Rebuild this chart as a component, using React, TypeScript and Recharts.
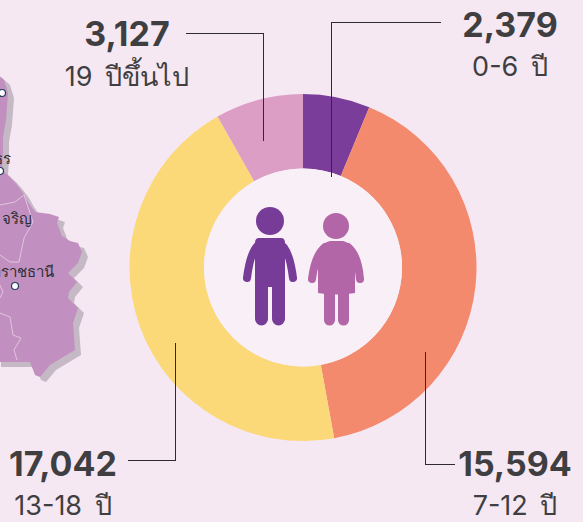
import React from 'react';
import { PieChart, Pie, Cell } from 'recharts';

const ageGroups = ['0-6 ปี', '7-12 ปี', '13-18 ปี', '19 ปีขึ้นไป'];
const counts = [2379, 15594, 17042, 3127];
const colors = ['#7a3e9a', '#f3896d', '#fbd878', '#dc9ec5'];
const chartData = ageGroups.map((name, i) => ({ name, value: counts[i] }));

const font = 'Inter, "Noto Sans", sans-serif';
const ink = '#3f3f41';

const labelLayout = [
  { cx: 510, big: 37, small: 76 },
  { cx: 515, big: 476, small: 515 },
  { cx: 63, big: 476, small: 515 },
  { cx: 127, big: 46, small: 86 },
];
const leaders = [
  '441,22 331,22 331,177',
  '455,464 425,464 425,352',
  '128,460 175,460 175,343',
  '186,33 263,33 263,141',
];

const mapOutline =
  'M-5,72 L4,80 L8,93 L6,120 L3,137 L3,153 L2,170 L10,177 L17,185 L23,193 L28,202 L35,212 L50,214 L59,217 L57,223 L62,236 L70,241 L78,243 L82,252 L78,263 L68,273 L77,282 L69,292 L68,298 L78,308 L73,323 L75,350 L50,365 L40,377 L35,375 L30,362 L0,362 L-5,362 Z';

export default function App() {
  return (
    <div style={{ position: 'absolute', left: 0, top: 0, width: 583, height: 522, background: '#f6e8f3', overflow: 'hidden', fontFamily: font }}>
      <svg width={583} height={522} style={{ position: 'absolute', left: 0, top: 0 }}>
        <path d={mapOutline} fill="#c5b9c5" transform="translate(6,5)" />
        <path d={mapOutline} fill="#c190c0" />
        <path d="M0,205 L15,202 L24,195 L33,222 L24,238 L19,262 L10,262 L0,255 M0,285 L3,292 L0,298 M0,313 L10,317 L13,335 L21,338 L14,350 L17,360" fill="none" stroke="#e2c4de" strokeWidth={1} />
        <g fontSize={15} fill="#2e2e30" fontFamily='"Noto Sans", sans-serif'>
          <text x={2} y={224}>จริญ</text>
          <text x={-8} y={277}>ลราชธานี</text>
          <text x={-6} y={164}>ธร</text>
        </g>
        {[[2, 93], [0, 171], [15, 286]].map(([x, y], i) => (
          <circle key={i} cx={x} cy={y} r={3.5} fill="#fff" stroke="#1f3b57" strokeWidth={1.2} />
        ))}
      </svg>
      <PieChart width={583} height={522} style={{ position: 'absolute', left: 0, top: 0 }} margin={{ top: 0, right: 0, bottom: 0, left: 0 }}>
        <Pie
          data={chartData}
          dataKey="value"
          nameKey="name"
          cx={303}
          cy={267.5}
          outerRadius={173.5}
          innerRadius={99}
          startAngle={90}
          endAngle={-270}
          stroke="none"
          isAnimationActive={false}
        >
          {chartData.map((d, i) => (
            <Cell key={d.name} fill={colors[i]} />
          ))}
        </Pie>
      </PieChart>
      <svg width={583} height={522} style={{ position: 'absolute', left: 0, top: 0 }}>
        <circle cx={303} cy={267.5} r={99} fill="#f9eff6" />
        {/* man */}
        <g fill="#763c97">
          <circle cx={270} cy={221} r={14} />
          <path d="M259,238 H281 Q285,238 285,243 V319 A6.5,6.5 0 0 1 272,319 V287 H268 V319 A6.5,6.5 0 0 1 255,319 V243 Q255,238 259,238 Z" />
          <path d="M262,243 Q251,246 247,278 M278,243 Q289,246 293,278" fill="none" stroke="#763c97" strokeWidth={8} strokeLinecap="round" />
        </g>
        {/* woman */}
        <g fill="#b265a7">
          <circle cx={336} cy={226} r={13} />
          <path d="M330,241 H343 Q352,242 355,262 L355,293 Q336,296 318,293 L318,262 Q321,242 330,241 Z" />
          <path d="M324,290 H335 V320 A5.5,5.5 0 0 1 324,320 Z M338,290 H349 V320 A5.5,5.5 0 0 1 338,320 Z" />
          <path d="M325,247 Q315,255 312,279 M348,247 Q358,255 360,279" fill="none" stroke="#b265a7" strokeWidth={8} strokeLinecap="round" />
        </g>
        {leaders.map((p, i) => (
          <polyline key={i} points={p} fill="none" stroke="#2e2a30" strokeWidth={1} shapeRendering="crispEdges" />
        ))}
        {labelLayout.map((l, i) => (
          <g key={i} textAnchor="middle" fill={ink}>
            <text x={l.cx} y={l.big} fontSize={34} fontWeight={700}>{counts[i].toLocaleString('en-US')}</text>
            <text x={l.cx} y={l.small} fontSize={27} style={{ wordSpacing: 5 }}>{ageGroups[i]}</text>
          </g>
        ))}
      </svg>
    </div>
  );
}
